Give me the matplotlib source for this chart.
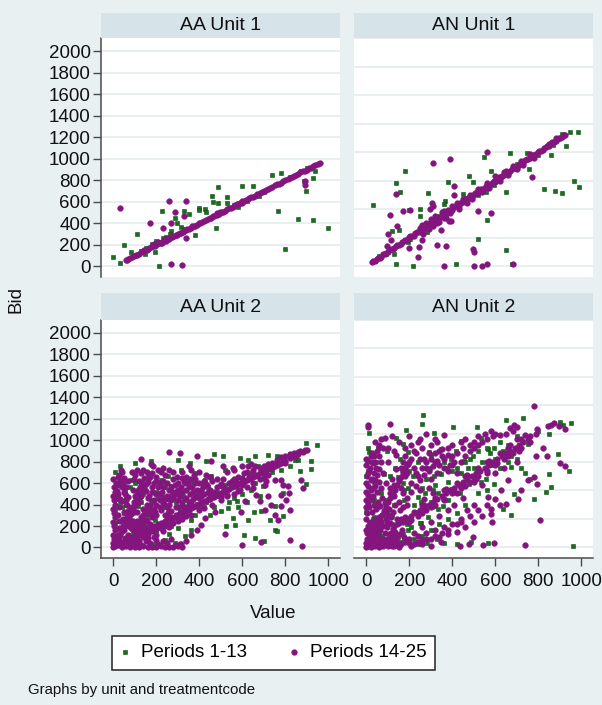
import matplotlib
matplotlib.use("Agg")
import matplotlib.pyplot as plt
from matplotlib.patches import Rectangle

plt.rcParams['font.family'] = ['Liberation Sans', 'DejaVu Sans']

# ---------------- data (value, bid) ----------------
panel_titles = ["AA Unit 1", "AN Unit 1", "AA Unit 2", "AN Unit 2"]
series_labels = ["Periods 1-13", "Periods 14-25"]
x_ticks = [0, 200, 400, 600, 800, 1000]
y_ticks_left = [0, 200, 400, 600, 800, 1000, 1200, 1400, 1600, 1800, 2000]
y_grid_right = [0, 200, 400, 600, 800, 1000, 1200, 1400, 1600]

aa1_early = [(0,85),(29,28),(50,200),(81,132),(110,304),(127,147),(146,116),(192,138),(211,6),
             (228,514),(231,266),(270,326),(288,451),(298,404),(313,367),(329,514),(350,486),
             (378,288),(397,545),(397,524),(428,530),(433,508),(459,658),(464,602),(487,737),
             (487,586),(479,360),(530,592),(530,649),(580,555),(598,749),(650,749),(678,652),
             (738,850),(778,868),(766,514),(797,163),(859,436),(874,890),(902,915),(887,796),
             (898,705),(930,430),(936,884),(930,818),(998,360),(150,175),(180,212),(200,232),
             (245,272),(262,300),(560,566),(622,604),(702,692),(820,826),(240,250),(330,350)]
aa1_late = [(60,62),(70,68),(80,82),(95,93),(105,108),(120,118),(130,132),(145,150),(155,152),
            (165,168),(175,176),(185,190),(195,192),(205,208),(215,214),(225,230),(235,233),
            (250,252),(260,258),(275,278),(290,288),(300,305),(315,312),(330,332),(345,346),
            (360,358),(375,378),(390,388),(405,408),(420,418),(440,442),(455,452),(470,472),
            (490,488),(505,508),(520,518),(540,542),(555,553),(575,578),(590,588),(610,612),
            (625,622),(640,642),(660,658),(680,682),(700,698),(720,722),(740,738),(760,762),
            (780,778),(800,802),(820,818),(840,842),(860,858),(880,882),(900,898),(920,918),
            (940,942),(960,965),(210,225),(225,215),(240,252),(190,205),(480,495),(600,590),
            (65,58),(88,92),(112,106),(138,142),(160,158),(182,186),(200,204),(220,218),
            (245,240),(268,270),(282,286),(295,292),(308,312),(322,318),(338,342),(352,350),
            (368,372),(382,380),(398,402),(412,410),(430,434),(448,446),(462,466),(480,478),
            (498,502),(512,510),(530,534),(548,546),(565,568),(582,580),(600,604),(618,616),
            (632,636),(650,648),(670,674),(690,688),(710,714),(730,728),(750,754),(770,768),
            (790,794),(810,808),(830,834),(850,848),(870,874),(890,888),(910,914),(930,928),
            (950,955),
            (30,545),(259,608),(340,608),(288,505),(330,467),(169,404),(231,360),(270,408),
            (340,263),(268,25),(320,10),(890,759),(890,790)]

an1_early = [(29,432),(138,583),(158,523),(180,669),(119,244),(150,255),(200,395),(250,402),
             (250,351),(288,511),(380,592),(367,455),(360,437),(479,634),(495,592),(549,762),
             (580,669),(668,797),(747,792),(758,681),(859,780),(930,841),(912,925),(949,941),
             (986,941),(967,599),(988,553),(828,541),(878,525),(909,513),(650,523),(595,571),
             (561,321),(518,193),(650,111),(138,14),(219,2),(417,14),(676,14),(127,88),(195,170),
             (281,239),(448,506),(557,518),(60,72),(90,82),(205,190),(330,352),(420,432),
             (462,480),(520,502),(600,588),(700,718),(800,782),(870,852),(40,35),(300,290)]
an1_late = [(25,30),(40,38),(55,58),(70,66),(85,88),(100,96),(115,118),(130,126),(145,148),
            (160,155),(175,178),(190,186),(205,210),(220,215),(235,240),(250,246),(265,268),
            (280,276),(295,300),(310,305),(325,330),(340,335),(355,360),(370,366),(385,390),
            (400,396),(415,420),(430,425),(445,450),(460,456),(475,480),(490,486),(505,510),
            (520,515),(535,540),(550,545),(565,570),(580,575),(595,600),(610,605),(625,628),
            (640,636),(655,660),(670,665),(685,690),(700,695),(715,718),(730,726),(745,750),
            (760,755),(775,778),(790,786),(805,808),(820,815),(835,838),(850,846),(865,868),
            (880,875),(895,898),(910,905),(925,920),(250,270),(255,240),(260,290),(300,330),
            (310,280),(330,300),(350,380),(360,340),(380,395),(400,420),(450,470),(470,440),
            (520,540),(540,520),(600,630),(620,600),(640,660),(680,700),(700,680),(760,790),
            (780,760),(850,860),(880,900),
            (32,36),(48,52),(62,60),(78,82),(92,90),(108,112),(122,120),(138,142),(152,150),
            (168,172),(182,180),(198,202),(212,210),(228,232),(242,240),(258,262),(272,270),
            (288,292),(302,300),(318,322),(332,330),(348,352),(362,360),(378,382),(392,390),
            (408,412),(422,420),(438,442),(452,450),(468,472),(482,480),(498,502),(512,510),
            (528,532),(542,540),(558,562),(572,570),(588,592),(602,600),(618,622),(632,630),
            (648,652),(662,660),(678,682),(692,690),(708,712),(722,720),(738,742),(752,750),
            (768,772),(782,780),(798,802),(812,810),(828,832),(842,840),(858,862),(872,870),
            (888,892),(902,900),(918,922),
            (280,300),(290,260),(320,350),(340,310),(360,390),(370,340),(390,370),(420,440),
            (430,400),(480,500),(490,470),(560,580),(570,550),(650,670),(660,640),(720,740),
            (730,710),
            (309,720),(391,750),(560,801),(138,504),(304,441),(312,425),(298,402),(110,360),
            (169,390),(202,395),(141,279),(99,223),(262,228),(257,181),(243,135),(239,65),
            (200,128),(327,146),(371,144),(384,316),(394,316),(347,255),(409,564),(409,502),
            (521,390),(580,372),(498,123),(502,100),(360,2),(499,2),(540,2),(561,14),(681,12),
            (769,623),(96,139),(115,181)]

aa2_early = [(29,757),(99,788),(177,803),(301,819),(355,788),(432,803),(468,874),(510,856),
             (588,834),(626,819),(657,849),(719,865),(763,856),(820,874),(843,819),(898,974),
             (949,952),(918,803),(918,732),(898,592),(870,710),(657,90),(699,59),(750,167),
             (727,260),(750,391),(688,344),(626,260),(654,329),(564,214),(555,276),(525,198),
             (533,369),(577,437),(549,601),(495,570),(456,664),(425,633),(402,601),(378,695),
             (316,726),(254,664),(223,633),(161,664),(130,601),(84,633),(53,540),(22,478),
             (6,353),(6,229),(14,105),(37,43),(99,74),(146,105),(192,28),(239,74),(285,43),
             (332,105),(363,167),(68,291),(115,384),(177,446),(215,508),(270,570),(324,477),
             (347,384),(254,322),(192,260),(146,198),(440,446),(487,477),(518,726),(611,633),
             (642,695),(673,757),(696,570),(789,508),(789,291),(760,150),(610,120),(450,300),
             (380,300),(300,180),(260,130),(200,150),(120,250),(60,400),(30,600),(10,700),
             (20,250),(40,380),(60,480),(80,560),(100,600),(140,500),(160,380),(180,420),
             (200,520),(240,560),(270,480),(290,420),(310,350),(340,330),(360,260),(390,410),
             (420,380),(440,560),(480,520),(520,580),(560,460),(600,500),(640,540),(660,600),
             (700,660),(740,700),(780,720),(820,760),(860,820),(120,30),(90,130),(40,160),
             (10,560),(30,420),(50,320),(70,200),(110,520),(130,420),(150,300),(170,160),
             (210,460),(230,380),(250,260),(270,200),(300,500),(330,440),(350,360),(370,600),
             (410,500),(430,420),(470,380),(500,340),(540,420),(580,380),(620,420),(680,480)]
aa2_late = [(10,15),(20,20),(30,25),(40,45),(50,50),(60,55),(70,75),(80,80),(90,90),(100,95),
            (110,115),(120,120),(130,125),(140,150),(150,145),(160,165),(170,175),(180,180),
            (190,200),(200,195),(210,215),(220,225),(230,230),(240,250),(250,245),(260,265),
            (270,280),(280,275),(290,300),(300,305),(310,320),(320,315),(330,340),(340,350),
            (350,345),(360,370),(370,380),(380,385),(390,395),(400,410),(410,415),(420,430),
            (430,435),(440,450),(450,455),(460,470),(470,475),(480,490),(490,495),(500,510),
            (510,515),(520,530),(530,540),(540,545),(550,560),(560,575),(570,575),(580,590),
            (590,600),(600,610),(610,615),(620,630),(630,640),(640,650),(650,660),(660,670),
            (670,680),(680,690),(690,700),(700,705),(710,720),(720,730),(730,740),(740,745),
            (750,760),(760,770),(770,780),(780,790),(790,800),(800,810),(820,830),(840,850),
            (860,870),(880,890),(900,905),
            (150,180),(250,290),(350,390),(450,490),(550,590),(650,690),(750,780),(200,170),
            (300,270),(400,370),(500,470),(600,580),(700,690),(800,790),(850,850),
            (300,380),(320,400),(350,420),(370,450),(380,470),(400,460),(420,500),(440,520),
            (450,540),(470,520),(480,560),(500,590),(510,560),(540,600),(550,620),(560,640),
            (570,610),(580,660),(600,650),(610,690),(620,700),(630,660),(650,720),(660,760),
            (680,740),(690,720),(700,760),(720,780),(740,790),(760,820),(780,840),(800,850),
            (820,870),(840,880),(860,890),(870,900),(890,910),
            (300,250),(340,290),(360,300),(400,350),(420,370),(460,400),(500,440),(530,480),
            (560,500),(580,530),(620,560),(650,600),(680,640),(700,650),(720,680),
            (0,0),(0,40),(5,80),(0,120),(10,160),(5,200),(0,240),(10,280),(5,320),(0,360),
            (10,400),(5,440),(0,480),(10,520),(5,560),(15,600),(0,640),(20,660),(30,620),
            (25,580),(20,500),(30,450),(25,380),(20,300),(30,250),(25,180),(20,120),(30,60),
            (15,20),
            (40,0),(60,10),(80,0),(100,5),(120,0),(140,10),(160,0),(180,5),(200,0),(220,10),
            (240,0),(260,5),(280,0),(300,10),(320,0),(90,30),(130,25),(170,40),(210,30),
            (250,45),(290,20),(310,35),(230,60),(270,80),(200,70),(150,60),(110,70),
            (40,700),(50,650),(45,600),(60,560),(55,500),(70,470),(40,430),(65,400),(80,360),
            (50,330),(75,300),(45,270),(90,250),(60,220),(80,190),(50,160),(100,140),(70,120),
            (85,700),(95,640),(90,540),(100,480),(100,420),(95,330),(100,200),
            (110,720),(130,690),(120,620),(140,580),(115,540),(150,530),(130,480),(160,460),
            (120,420),(170,400),(140,360),(110,330),(160,320),(130,280),(180,280),(150,250),
            (120,200),(170,220),(190,360),(200,500),(180,560),(160,640),(200,620),(190,440),
            (200,300),
            (5,20),(15,60),(25,100),(35,140),(45,200),(55,240),(65,280),(75,330),(85,380),
            (95,420),(105,460),(115,500),(125,560),(135,600),(145,650),(155,700),(35,30),
            (55,90),(75,110),(95,160),(115,180),(135,220),(155,260),(175,300),(195,330),
            (215,380),(235,410),(255,450),(275,490),(295,530),(315,560),(335,600),(355,640),
            (375,680),(60,30),(80,50),(120,60),(160,90),(190,100),(230,150),(260,190),
            (280,230),(320,270),(40,560),(70,620),(100,680),(140,720),(185,760),(230,740),
            (280,700),(320,650),(260,540),(230,560),(200,400),(170,350),(140,300),(110,250),
            (80,230),
            (12,35),(22,75),(32,115),(42,155),(52,195),(62,235),(72,275),(82,315),(92,355),
            (102,395),(112,435),(122,475),(132,515),(142,555),(152,595),(162,615),(172,655),
            (182,695),(8,450),(18,530),(28,680),(38,720),(48,520),(58,440),(68,340),(78,260),
            (88,170),(98,100),(108,40),(118,140),(128,200),(138,260),(148,340),(158,400),
            (168,480),(178,520),(188,600),(198,660),(208,720),(218,600),(228,520),(238,460),
            (248,380),(258,340),(268,440),(278,520),(288,580),(298,660),(308,480),(318,420),
            (328,380),(338,540),(348,600),(358,500),(368,560),(378,600),(388,540),(398,520),
            (408,480),(418,560),(428,600),(438,580),(200,120),(220,180),(240,200),(260,230),
            (180,150),(160,130),(140,100),(70,20),(90,60),(50,30),
            (220,700),(240,680),(260,720),(230,620),(250,600),(280,640),(210,560),(270,560),
            (300,600),(220,500),(250,480),(290,500),(230,420),(260,400),(300,440),(220,350),
            (270,340),(240,300),(290,380),(300,540),(280,460),(215,440),
            (320,700),(340,660),(360,720),(330,620),(380,640),(350,560),(400,600),(320,520),
            (370,520),(410,540),(340,460),(390,480),(360,420),(420,620),(400,700),(430,680),
            (450,660),(480,640),(460,620),(510,640),(530,700),(560,720),(600,760),(640,780),
            (879,12),(600,22),(688,53),(820,74),(259,890),(309,880),(391,856),(518,130),
            (781,633),(789,586),(781,493),(812,570),(815,508),(805,446),(820,353),(750,307),
            (766,260),(781,384),(874,633),(882,555),(587,540),(611,431),(592,332),(530,493),
            (471,329),(425,276),(409,214),(391,167),(363,112),(340,59),(316,28),(704,586),
            (711,617),(750,633),(719,477),(735,400),(704,353),(681,431),(665,493),(650,555),
            (130,825),(174,781),(350,757),(456,803),(510,757),(557,741),(626,757)]

an2_early = [(262,934),(259,871),(184,822),(316,806),(401,845),(515,845),(650,894),(727,911),
             (913,864),(952,873),(890,655),(944,539),(848,516),(859,423),(836,388),(781,341),
             (688,376),(634,272),(673,225),(564,33),(487,39),(363,28),(282,33),(239,23),(960,9),
             (14,806),(6,539),(14,667),(138,771),(169,725),(96,678),(192,667),(293,667),
             (347,690),(440,748),(533,771),(564,690),(673,562),(557,481),(479,446),(409,400),
             (378,330),(332,272),(285,214),(254,167),(192,121),(146,74),(37,330),(37,214),
             (84,516),(146,492),(177,400),(239,353),(309,400),(347,516),(456,609),(595,446),
             (200,200),(300,320),(400,410),(500,480),(600,620),(700,690),(750,730),(800,820),
             (850,800),(900,880),(30,60),(60,100),(90,40),(120,160),(40,300),(20,420),(10,700),
             (0,500),(0,250),(170,90),(210,140),(250,170),(120,230),(70,380),(110,500),
             (200,540),(240,600),(300,650),(360,600),(420,560),(480,620),(520,680),(560,700),
             (620,740),(660,720),(700,780),(100,20),(60,10),(420,20),(330,60),
             (10,120),(30,200),(50,280),(70,150),(90,330),(110,80),(130,300),(150,200),
             (170,450),(190,160),(220,300),(260,420),(280,480),(320,440),(340,520),(380,460),
             (400,540),(440,520),(460,600),(500,560),(540,600),(580,580),(620,560),(660,600),
             (700,620),(720,560),(740,520),(760,480),(380,200),(420,240),(460,300),(520,380),
             (560,400),(300,120),(340,160),(260,80),(220,60),(160,40),(120,20),(80,60),
             (5,30),(15,180),(25,330),(35,460),(45,600),(55,700),(75,80),(95,240),(115,360),
             (135,560),(155,620),(175,330),(195,420),(215,500),(235,250),(255,320),(275,380),
             (295,560),(315,500),(335,380),(355,290),(375,560),(395,620),(415,680),(435,380),
             (455,450),(475,560),(495,640),(515,500),(535,460),(555,560),(575,660),(595,700),
             (635,680),(675,640)]
an2_late = [(0,0),(10,10),(20,0),(30,20),(40,5),(50,15),(60,0),(70,25),(80,10),(90,30),(100,5),
            (110,20),(120,40),(130,10),(140,30),(150,0),(0,30),(5,60),(15,90),(25,50),(35,80),
            (45,110),(55,70),(65,120),(75,60),(85,100),(95,140),(105,90),(115,70),(125,130),
            (135,110),(145,160),(0,120),(10,150),(20,180),(30,140),(40,200),(50,170),(60,210),
            (70,180),(80,150),(90,200),(100,230),(110,170),(0,200),(5,240),(15,280),(25,250),
            (35,300),(45,270),(55,320),(65,290),(75,350),(85,310),(0,330),(10,370),(20,400),
            (30,360),(40,430),(50,390),(60,460),(70,420),(0,450),(5,500),(15,540),(25,480),
            (35,520),(45,560),(0,580),(10,610),(20,640),(30,590),(9,864),(9,845),
            (5,5),(15,15),(25,5),(35,35),(45,25),(55,45),(65,10),(75,40),(85,20),(95,60),
            (105,50),(115,100),(125,60),(135,80),(145,40),(155,90),(165,120),(175,70),(5,100),
            (15,130),(25,110),(35,170),(45,140),(55,190),(65,160),(75,230),(85,260),(95,180),
            (105,270),(115,210),(125,250),(135,300),(145,200),(155,260),(0,280),(10,310),
            (20,350),(30,420),(40,470),(50,510),(60,550),(70,600),(0,390),(10,430),(20,470),
            (0,620),(25,660),(40,600),(90,450),(110,380),(130,440),(150,480),(170,540),
            (190,580),(210,620),(230,660),(170,280),(190,350),(210,390),(230,430),(250,470),
            (270,510),(290,540),(310,570),(330,610),(350,690),(380,650),(410,600),(270,620),
            (290,660),(180,640),(210,720),(250,760),(330,740),
            (2,15),(12,45),(22,75),(32,105),(42,135),(52,165),(62,195),(72,225),(82,255),
            (92,285),(102,315),(112,345),(122,375),(132,405),(142,435),(152,465),(162,495),
            (172,525),(182,555),(192,585),(8,520),(18,560),(28,600),(38,640),(48,680),(58,720),
            (68,760),(100,700),(130,680),(160,560),(190,520),(220,560),(240,500),(260,560),
            (280,600),(300,620),(320,660),(340,580),(360,620),(380,540),(400,580),(420,520),
            (440,600),(460,640),(480,680),(500,700),(520,720),(540,740),(560,760),(590,780),
            (620,790),(650,800),(680,820),(120,10),(140,60),(160,20),(180,40),(200,60),
            (220,20),(240,80),(260,50),(280,100),(300,60),(320,120),(340,70),(360,140),
            (380,90),(400,160),(420,110),(440,180),(460,140),(480,220),(500,180),(520,260),
            (540,220),(560,300),(580,270),(600,340),(620,300),
            (80,520),(100,600),(120,480),(140,550),(160,420),(180,500),(200,600),(110,420),
            (130,360),(150,320),(170,380),(190,300),(210,450),(230,520),(250,620),(220,680),
            (260,700),(300,720),(340,680),(280,560),(300,480),(320,600),(350,640),(380,700),
            (400,640),(250,400),(270,340),(290,420),(310,380),(330,520),(360,560),(390,580),
            (420,660),(450,700),(480,720),(180,700),(150,740),(120,780),(112,869),(60,706),
            (88,771),(200,780),(240,740),(280,800),(320,760),(360,790),(400,720),(440,740),
            (460,760),(500,740),(520,780),(550,800),(580,820),(600,800),(140,650),(170,600),
            (60,640),(80,700),(40,740),
            (130,150),(150,170),(170,180),(190,200),(210,220),(230,240),(250,260),(270,280),
            (290,300),(310,320),(330,340),(350,360),(370,380),(390,400),(410,420),(430,440),
            (450,460),(470,480),(490,500),(510,520),(530,540),(550,560),(570,580),(590,600),
            (610,620),(630,640),(650,660),(670,680),(690,700),(710,720),(730,740),(750,760),
            (200,180),(240,220),(280,260),(320,300),(360,340),(400,380),(440,420),(480,460),
            (520,500),(560,540),(600,580),(640,620),(680,660),(720,700),(160,200),(260,300),
            (360,400),(460,500),(560,600),(660,700),(300,280),(420,380),(500,460),
            (180,215),(220,250),(270,300),(320,350),(370,410),(420,450),(470,510),(520,560),
            (570,610),(620,660),(670,720),(720,760),(210,190),(260,240),(310,290),(360,330),
            (410,390),(460,430),(510,480),(560,520),(610,590),(660,640),(710,680),(760,740),
            (778,996),(685,859),(670,836),(701,845),(794,834),(789,799),(843,857),(874,873),
            (898,857),(926,834),(859,864),(740,790),(760,780),(700,760),
            (924,574),(902,590),(839,639),(820,697),(789,643),(781,497),(750,474),(719,400),
            (707,341),(792,446),(657,474),(580,237),(585,179),(564,353),(808,190),(738,16),
            (650,307),(626,400),(600,520),(640,560),(700,600),(540,440),(500,300),(470,260),
            (440,200),(420,160),(380,120),(350,100),(320,80),(280,60),(240,40),(200,30),
            (180,60),(220,100),(260,140),(300,180),(340,220),(380,260),(410,300),(450,350),
            (437,5),(479,23),(544,16),(595,28),(495,74),(347,39),(208,9),(300,10),(260,20)]

panel_data = [(aa1_early, aa1_late), (an1_early, an1_late),
              (aa2_early, aa2_late), (an2_early, an2_late)]

# ---------------- styling ----------------
W, H = 602, 705
BG = '#e9f0f2'
STRIP = '#d6e3e9'
GRID = '#e3ebee'
AXC = '#4a4a4a'
GREEN = '#16701c'
GREEN_EDGE = '#0c4a10'
PURPLE = '#84157f'

fig = plt.figure(figsize=(W / 100, H / 100), dpi=100, facecolor=BG)

def fx(px):
    return px / W

def fy(py):
    return 1 - py / H

# panel pixel boxes: (left, right, strip_top, plot_top, plot_bottom)
boxes = [(101, 340, 13, 38, 277), (354, 593, 13, 38, 277),
         (101, 340, 293, 320, 558), (354, 593, 293, 320, 558)]

handles = []
for i, (l, r, st, pt, pb) in enumerate(boxes):
    ax = fig.add_axes([fx(l), fy(pb), (r - l) / W, (pb - pt) / H])
    ax.set_facecolor('white')
    left_col = i in (0, 2)
    bottom_row = i in (2, 3)
    early, late = panel_data[i]
    h1 = ax.scatter([p[0] for p in early], [p[1] for p in early], s=7, marker='s',
                    color=GREEN, edgecolors=GREEN_EDGE, linewidths=0.4, zorder=3)
    h2 = ax.scatter([p[0] for p in late], [p[1] for p in late], s=17, marker='o',
                    color=PURPLE, edgecolors=PURPLE, linewidths=0.3, zorder=4)
    if i == 0:
        handles = [h1, h2]
    ax.set_xlim(-57, 1054)
    if left_col:
        ax.set_ylim(-98, 2121)
        ax.set_yticks(y_ticks_left)
        ax.set_yticklabels([str(v) for v in y_ticks_left])
        ax.tick_params(axis='y', length=5.8, width=1, color=AXC, pad=1.5,
                       labelsize=13.5, labelcolor='#111111')
    else:
        ax.set_ylim(-76, 1587)
        ax.set_yticks(y_grid_right)
        ax.tick_params(axis='y', length=0, labelleft=False)
    ax.set_xticks(x_ticks)
    if bottom_row:
        ax.set_xticklabels([str(v) for v in x_ticks])
        ax.tick_params(axis='x', length=5.5, width=1, color=AXC, pad=5,
                       labelsize=13.5, labelcolor='#111111')
    else:
        ax.tick_params(axis='x', length=0, labelbottom=False)
    ax.grid(axis='y', color=GRID, linewidth=1.1)
    ax.grid(axis='x', visible=False)
    ax.set_axisbelow(True)
    for side in ('top', 'right'):
        ax.spines[side].set_visible(False)
    ax.spines['left'].set_visible(left_col)
    ax.spines['bottom'].set_visible(bottom_row)
    for side in ('left', 'bottom'):
        ax.spines[side].set_color(AXC)
        ax.spines[side].set_linewidth(1.1)
    # strip header
    fig.patches.append(Rectangle((fx(l), fy(pt)), (r - l) / W, (pt - st) / H,
                                 transform=fig.transFigure, facecolor=STRIP,
                                 edgecolor='none', zorder=0))
    fig.text(fx((l + r) / 2), fy((st + pt) / 2 + 0.5), panel_titles[i], ha='center',
             va='center', fontsize=14, color='#111111')

fig.text(fx(273.5), fy(613), "Value", ha='center', va='center', fontsize=13.5,
         color='#111111')
fig.text(fx(16), fy(300), "Bid", ha='center', va='center', rotation=90,
         fontsize=13.5, color='#111111')

leg = fig.legend(handles, series_labels, loc='center', ncol=2, mode='expand',
                 bbox_to_anchor=(fx(112), fy(673), (435 - 112) / W, (673 - 632) / H),
                 fontsize=13.5, frameon=True, fancybox=False, edgecolor='#222222',
                 facecolor='white', framealpha=1, borderpad=0.45, handlelength=0.5,
                 handletextpad=0.6, columnspacing=1.5, scatterpoints=1, borderaxespad=0)
leg.get_frame().set_linewidth(1.1)

fig.text(fx(28), fy(690), "Graphs by unit and treatmentcode", ha='left', va='center',
         fontsize=10.8, color='#111111')

fig.savefig("out.png", dpi=100, facecolor=BG)
